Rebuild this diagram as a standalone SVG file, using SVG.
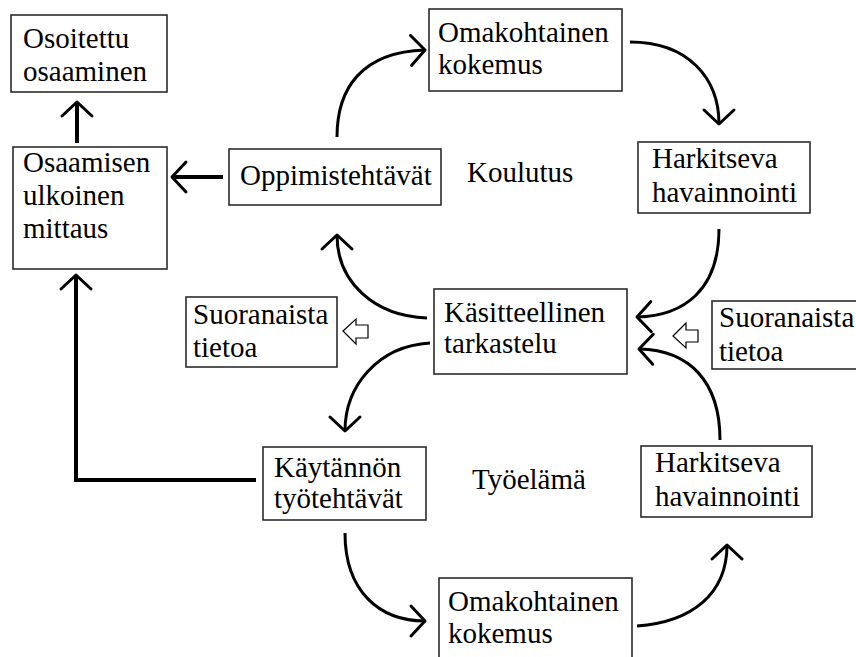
<svg xmlns="http://www.w3.org/2000/svg" width="856" height="657" viewBox="0 0 856 657">
  <style>
    .box { fill: #fff; stroke: #2b2b2b; stroke-width: 1.6; }
    text { font-family: 'Liberation Serif', 'DejaVu Serif', serif; font-size: 29px; fill: #000; }
    .arc { fill: none; stroke: #000; stroke-width: 3; }
    .thick { fill: none; stroke: #000; stroke-width: 4; }
    .hollow { fill: #fff; stroke: #000; stroke-width: 1.2; }
  </style>
  <defs>
    <marker id="head" markerUnits="userSpaceOnUse" orient="auto" refX="0" refY="0" markerWidth="1" markerHeight="1" overflow="visible">
      <path d="M-14,-15 L0,0 L-14,15" fill="none" stroke="#000" stroke-width="3" stroke-linecap="round" stroke-linejoin="round"/>
    </marker>
  </defs>
  <rect width="856" height="657" fill="#fff"/>

  <!-- connectors -->
  <g id="connectors">
    <!-- straight arrows on the left -->
    <path class="thick" d="M77,143 L77,102" marker-end="url(#head)"/>
    <path class="thick" d="M223,177 L172,177" marker-end="url(#head)"/>
    <path class="thick" d="M256,480 L76,480 L76,275" marker-end="url(#head)"/>
    <!-- Koulutus cycle -->
    <path class="arc" d="M337,137 C337,88 362,52 425,50" marker-end="url(#head)"/>
    <path class="arc" d="M630,42 C688,42 719,78 719,124" marker-end="url(#head)"/>
    <path class="arc" d="M719,229 C719,290 684,316 637,317" marker-end="url(#head)"/>
    <path class="arc" d="M427,318 C374,316 337,282 337,235" marker-end="url(#head)"/>
    <!-- Työelämä cycle -->
    <path class="arc" d="M430,343 C378,346 345,386 345,431" marker-end="url(#head)"/>
    <path class="arc" d="M345,533 C345,592 380,621 425,621" marker-end="url(#head)"/>
    <path class="arc" d="M637,626 C692,622 727,594 727,545" marker-end="url(#head)"/>
    <path class="arc" d="M720,440 C720,382 690,350 639,349" marker-end="url(#head)"/>
    <!-- hollow block arrows -->
    <polygon class="hollow" points="343,331 356,319 356,325 368,325 368,338 356,338 356,344"/>
    <polygon class="hollow" points="673,336 686,323 686,330 698,330 698,342 686,342 686,348"/>
  </g>

  <g id="osoitettu">
    <rect class="box" x="11" y="15" width="156" height="77"/>
    <text x="23" y="48">Osoitettu</text>
    <text x="23" y="81">osaaminen</text>
  </g>
  <g id="mittaus">
    <rect class="box" x="13" y="147" width="154" height="122"/>
    <text x="23" y="172">Osaamisen</text>
    <text x="23" y="205">ulkoinen</text>
    <text x="23" y="238">mittaus</text>
  </g>
  <g id="oppimistehtavat">
    <rect class="box" x="229" y="149" width="212" height="56"/>
    <text x="240" y="185">Oppimistehtävät</text>
  </g>
  <g id="koulutus">
    <text x="467" y="182">Koulutus</text>
  </g>
  <g id="omakohtainen-top">
    <rect class="box" x="429" y="9" width="193" height="82"/>
    <text x="438" y="42">Omakohtainen</text>
    <text x="438" y="74">kokemus</text>
  </g>
  <g id="harkitseva-top">
    <rect class="box" x="638" y="142" width="172" height="71"/>
    <text x="652" y="168">Harkitseva</text>
    <text x="652" y="202">havainnointi</text>
  </g>
  <g id="kasitteellinen">
    <rect class="box" x="434" y="289" width="193" height="85"/>
    <text x="444" y="322">Käsitteellinen</text>
    <text x="444" y="353">tarkastelu</text>
  </g>
  <g id="suoranaista-left">
    <rect class="box" x="186" y="297" width="151" height="70"/>
    <text x="193" y="324">Suoranaista</text>
    <text x="193" y="357">tietoa</text>
  </g>
  <g id="suoranaista-right">
    <rect class="box" x="712" y="301" width="150" height="68"/>
    <text x="719" y="327">Suoranaista</text>
    <text x="719" y="361">tietoa</text>
  </g>
  <g id="kaytannon">
    <rect class="box" x="263" y="447" width="163" height="73"/>
    <text x="274" y="477">Käytännön</text>
    <text x="274" y="508">työtehtävät</text>
  </g>
  <g id="tyoelama">
    <text x="472" y="489">Työelämä</text>
  </g>
  <g id="harkitseva-bottom">
    <rect class="box" x="641" y="446" width="171" height="71"/>
    <text x="655" y="472">Harkitseva</text>
    <text x="655" y="506">havainnointi</text>
  </g>
  <g id="omakohtainen-bottom">
    <rect class="box" x="439" y="578" width="193" height="90"/>
    <text x="448" y="611">Omakohtainen</text>
    <text x="448" y="643">kokemus</text>
  </g>
</svg>
